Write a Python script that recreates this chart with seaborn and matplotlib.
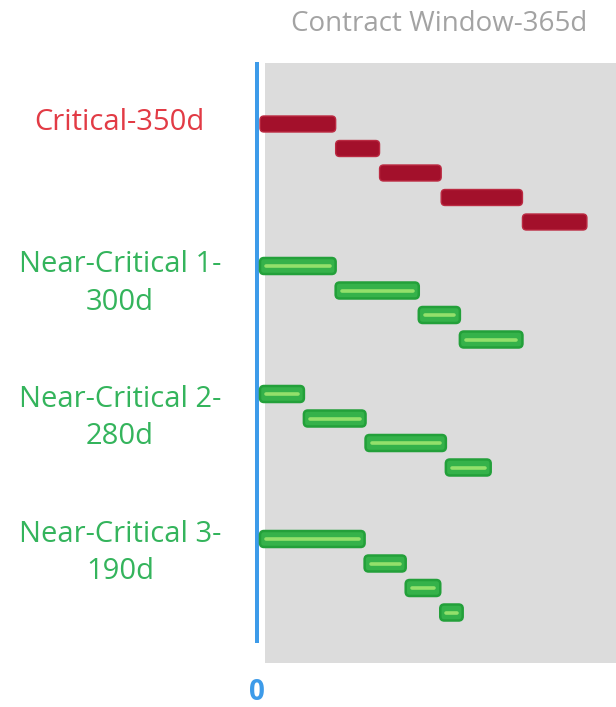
import numpy as np
import pandas as pd
import seaborn as sns
import matplotlib
matplotlib.use("Agg")
import matplotlib.pyplot as plt
from matplotlib.patches import FancyBboxPatch, Rectangle

# ---- data -------------------------------------------------------------
path_names = ["Critical", "Near-Critical 1", "Near-Critical 2", "Near-Critical 3"]
path_totals = [350, 300, 280, 190]          # days, as labelled
window_days = 365

# activity durations (days) along each path, in sequence
critical_durations = [81, 47, 66, 87, 69]
near1_durations = [81, 89, 44, 67]
near2_durations = [47, 66, 86, 48]
near3_durations = [112, 44, 37, 24]

# ---- layout -----------------------------------------------------------
W, H, DPI = 616, 707, 100
PX_PER_DAY = 0.934
X0_PX = 260                    # pixel column of day 0
group_top = [124, 266, 394, 539]
row_pitch = 24.5
bar_h = 16

rows = []
for name, durs, top in zip(path_names,
                           [critical_durations, near1_durations,
                            near2_durations, near3_durations],
                           group_top):
    starts = np.concatenate([[0], np.cumsum(durs)[:-1]])
    for i, (s, d) in enumerate(zip(starts, durs)):
        rows.append({"path": name, "start": s, "duration": d,
                     "y": top + i * row_pitch})
df = pd.DataFrame(rows)

sns.set_theme(style="white")
plt.rcParams["font.family"] = ["Open Sans", "DejaVu Sans"]

fig = plt.figure(figsize=(W / DPI, H / DPI), dpi=DPI)
ax = fig.add_axes([0, 0, 1, 1])
ax.set_xlim(-X0_PX / PX_PER_DAY, (W - X0_PX) / PX_PER_DAY)
ax.set_ylim(H, 0)
ax.axis("off")


def px2day(px):
    return (px - X0_PX) / PX_PER_DAY


# contract window panel
ax.add_patch(Rectangle((px2day(265), 63), px2day(W) - px2day(265), 600,
                       facecolor="#dcdcdc", edgecolor="none", zorder=0))
# time-zero marker
ax.add_patch(Rectangle((px2day(255), 62), 4 / PX_PER_DAY, 581,
                       facecolor="#3d9be9", edgecolor="none", zorder=1))

radius_px = 4
palette = {"Critical": ("#a3102b", "#bb2a42"),
           "Near-Critical 1": ("#35b24a", "#23a03a"),
           "Near-Critical 2": ("#35b24a", "#23a03a"),
           "Near-Critical 3": ("#35b24a", "#23a03a")}

for _, r in df.iterrows():
    face, edge = palette[r["path"]]
    box = FancyBboxPatch((r["start"], r["y"] - bar_h / 2), r["duration"], bar_h,
                         boxstyle=f"round,pad=0,rounding_size={radius_px / PX_PER_DAY}",
                         mutation_aspect=PX_PER_DAY,
                         facecolor=face, edgecolor=edge,
                         linewidth=1.0 if r["path"] == "Critical" else 1.8, zorder=3)
    ax.add_patch(box)
    if r["path"] != "Critical":
        inset = 6 / PX_PER_DAY
        x_a = r["start"] + inset
        x_b = r["start"] + r["duration"] - inset
        if x_b <= x_a:
            mid = r["start"] + r["duration"] / 2
            x_a, x_b = mid - 1.5, mid + 1.5
        ax.plot([x_a, x_b], [r["y"], r["y"]], color="#93e06b",
                linewidth=2.6, solid_capstyle="round", zorder=4)

# path labels
red_txt = "#e23b45"
green_txt = "#34b45c"
label_size = 21


def ftext(xpx, ypx, s, **kw):
    fig.text(xpx / W, 1 - ypx / H, s, ha="center", va="baseline", **kw)


ftext(119, 130, f"{path_names[0]}-{path_totals[0]}d", color=red_txt, fontsize=label_size)
for name, total, (b1, b2) in zip(path_names[1:], path_totals[1:],
                                 [(272, 310), (407, 444), (542, 579)]):
    ftext(120, b1, f"{name}-", color=green_txt, fontsize=label_size)
    ftext(120, b2, f"{total}d", color=green_txt, fontsize=label_size)

ftext(439, 31, f"Contract Window-{window_days}d", color="#a3a3a3", fontsize=20)
ftext(257, 700, "0", color="#3d9be9", fontsize=20, fontweight="bold")

fig.savefig("out.png", dpi=DPI)
